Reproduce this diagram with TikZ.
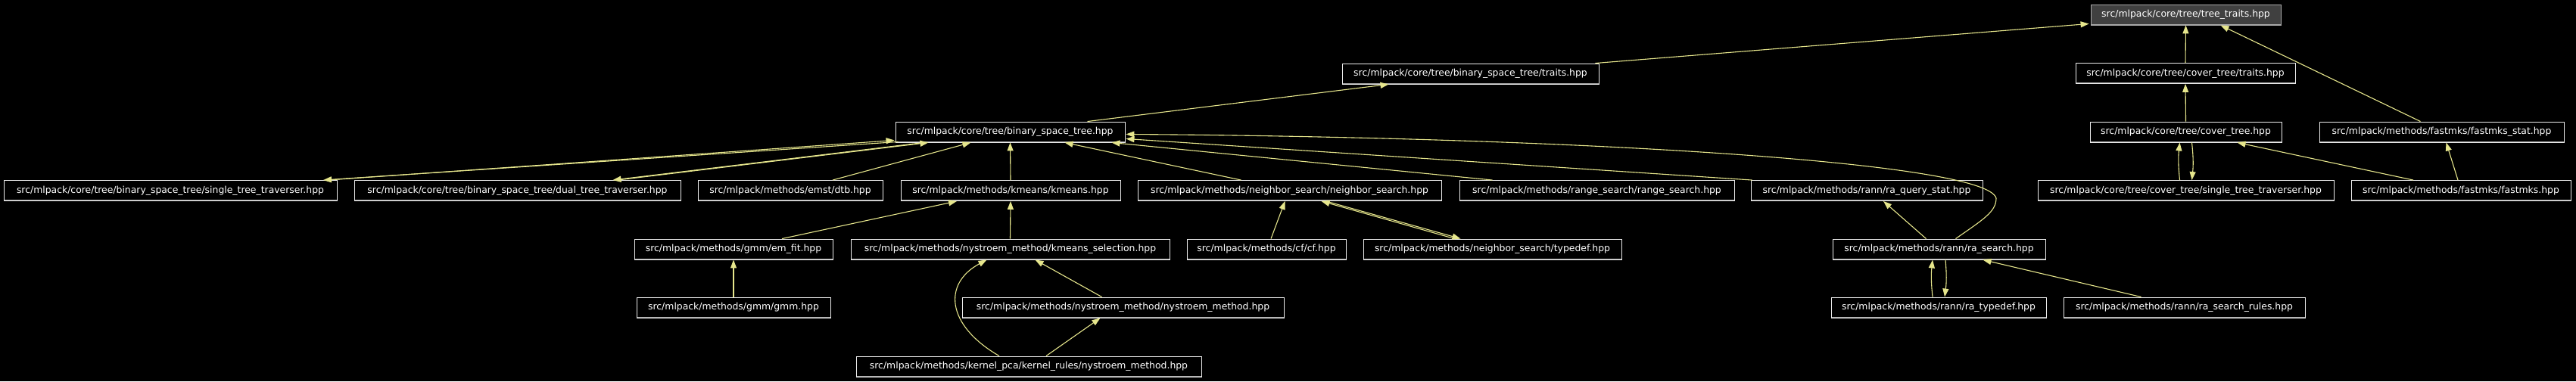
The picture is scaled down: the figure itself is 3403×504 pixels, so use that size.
\documentclass[tikz,border=0pt]{standalone}
\usepackage{fontspec}
\setmainfont{DejaVu Sans}
\usetikzlibrary{arrows.meta}
\definecolor{edgecol}{RGB}{230,230,140}
\definecolor{boxline}{RGB}{235,235,235}
\definecolor{boxshade}{RGB}{170,170,170}
\definecolor{ttfill}{RGB}{64,64,64}
\tikzset{
  filebox/.style={draw=boxline, line width=0.9pt, text=white, minimum height=27pt, inner sep=0pt,
    font=\fontsize{12.4}{14}\selectfont,
    path picture={\draw[boxshade,line width=3pt] (path picture bounding box.south west) -- (path picture bounding box.south east);}},
  rootbox/.style={filebox, fill=ttfill, draw=boxshade},
  dep/.style={draw=edgecol, line width=1.1pt, -{Triangle[length=11pt,width=8pt,fill=edgecol]}},
}
\begin{document}
\begin{tikzpicture}[x=1pt,y=-1pt]
\useasboundingbox[fill=black] (0,0) rectangle (3403,504);
% row 0
\node[rootbox, minimum width=251pt] (tt) at (2887.5,19.5) {src/mlpack/core/tree/tree\_traits.hpp};
% row 1
\node[filebox, minimum width=339pt] (bsttraits) at (1942.5,97.5) {src/mlpack/core/tree/binary\_space\_tree/traits.hpp};
\node[filebox, minimum width=290pt] (covtraits) at (2887,97) {src/mlpack/core/tree/cover\_tree/traits.hpp};
% row 2
\node[filebox, minimum width=303pt] (bst) at (1334.5,174.5) {src/mlpack/core/tree/binary\_space\_tree.hpp};
\node[filebox, minimum width=253pt] (covtree) at (2887.5,174.5) {src/mlpack/core/tree/cover\_tree.hpp};
\node[filebox, minimum width=323pt] (fmstat) at (3225.5,174.5) {src/mlpack/methods/fastmks/fastmks\_stat.hpp};
% row 3
\node[filebox, minimum width=440pt] (stt) at (225,252) {src/mlpack/core/tree/binary\_space\_tree/single\_tree\_traverser.hpp};
\node[filebox, minimum width=431pt] (dtt) at (683.5,252) {src/mlpack/core/tree/binary\_space\_tree/dual\_tree\_traverser.hpp};
\node[filebox, minimum width=244pt] (dtb) at (1044,252) {src/mlpack/methods/emst/dtb.hpp};
\node[filebox, minimum width=290pt] (kmeans) at (1335,252) {src/mlpack/methods/kmeans/kmeans.hpp};
\node[filebox, minimum width=401pt] (ns) at (1703.5,252) {src/mlpack/methods/neighbor\_search/neighbor\_search.hpp};
\node[filebox, minimum width=363pt] (rs) at (2109.5,252) {src/mlpack/methods/range\_search/range\_search.hpp};
\node[filebox, minimum width=306pt] (rqs) at (2466,252) {src/mlpack/methods/rann/ra\_query\_stat.hpp};
\node[filebox, minimum width=391pt] (cstt) at (2887.5,252) {src/mlpack/core/tree/cover\_tree/single\_tree\_traverser.hpp};
\node[filebox, minimum width=290pt] (fm) at (3251,252) {src/mlpack/methods/fastmks/fastmks.hpp};
% row 4
\node[filebox, minimum width=262pt] (emfit) at (969,329.5) {src/mlpack/methods/gmm/em\_fit.hpp};
\node[filebox, minimum width=421pt] (kms) at (1334.5,329.5) {src/mlpack/methods/nystroem\_method/kmeans\_selection.hpp};
\node[filebox, minimum width=210pt] (cf) at (1673,329.5) {src/mlpack/methods/cf/cf.hpp};
\node[filebox, minimum width=341pt] (nstd) at (1971.5,329.5) {src/mlpack/methods/neighbor\_search/typedef.hpp};
\node[filebox, minimum width=281pt] (ras) at (2561.5,329.5) {src/mlpack/methods/rann/ra\_search.hpp};
% row 5
\node[filebox, minimum width=256pt] (gmm) at (969,406.5) {src/mlpack/methods/gmm/gmm.hpp};
\node[filebox, minimum width=425pt] (nm) at (1483.5,406.5) {src/mlpack/methods/nystroem\_method/nystroem\_method.hpp};
\node[filebox, minimum width=284pt] (rat) at (2561,406.5) {src/mlpack/methods/rann/ra\_typedef.hpp};
\node[filebox, minimum width=319pt] (rasr) at (2885.5,406.5) {src/mlpack/methods/rann/ra\_search\_rules.hpp};
% row 6
\node[filebox, minimum width=456pt] (krn) at (1359,484.5) {src/mlpack/methods/kernel\_pca/kernel\_rules/nystroem\_method.hpp};

% edges
\draw[dep] ([xshift=-5pt]bsttraits.north east) -- ([xshift=-2pt,yshift=2pt]tt.south west);
\draw[dep] (covtraits.north) -- (tt.south);
\draw[dep] ([xshift=-28pt]fmstat.north) -- ([xshift=46pt]tt.south);
\draw[dep] (covtree.north) -- (covtraits.south);
\draw[dep] ([xshift=102pt]bst.north) -- ([xshift=-108pt]bsttraits.south);
\draw[dep] ([xshift=208pt]stt.north) -- ([xshift=-1pt,yshift=3pt]bst.south west);
\draw[dep] ([xshift=4pt,yshift=1pt]bst.south west) -- ([xshift=202pt]stt.north);
\draw[dep] ([xshift=132pt]dtt.north) -- ([xshift=-108pt]bst.south);
\draw[dep] ([xshift=-114pt]bst.south) -- ([xshift=126pt]dtt.north);
\draw[dep] ([xshift=56pt]dtb.north) -- ([xshift=-52pt]bst.south);
\draw[dep] (kmeans.north) -- (bst.south);
\draw[dep] ([xshift=-64pt]ns.north) -- ([xshift=72pt]bst.south);
\draw[dep] ([xshift=-138pt]rs.north) -- ([xshift=-18pt]bst.south east);
\draw[dep] ([xshift=2pt]rqs.north west) -- ([xshift=1pt,yshift=5pt]bst.south east);
\draw[dep] ([xshift=22pt]ras.north) .. controls (2620,290) and (2637,280) .. (2637,262)
  .. controls (2625,215) and (2100,182) .. ([xshift=1pt,yshift=11pt]bst.south east);
\draw[dep] ([xshift=-17pt]ras.north) -- ([xshift=22pt]rqs.south);
\draw[dep] ([xshift=-8pt]rat.north) to[bend left=6] ([xshift=-8.5pt]ras.south);
\draw[dep] ([xshift=8.5pt]ras.south) to[bend left=6] ([xshift=8pt]rat.north);
\draw[dep] ([xshift=-57pt]rasr.north) -- ([xshift=58pt]ras.south);
\draw[dep] ([xshift=-8pt]cstt.north) to[bend left=6] ([xshift=-8pt]covtree.south);
\draw[dep] ([xshift=8pt]covtree.south) to[bend left=6] ([xshift=8pt]cstt.north);
\draw[dep] ([xshift=-63pt]fm.north) -- ([xshift=68pt]covtree.south);
\draw[dep] ([xshift=-4pt]fm.north) -- ([xshift=6pt]fmstat.south);
\draw[dep] ([xshift=64pt]emfit.north) -- ([xshift=-71pt]kmeans.south);
\draw[dep] (kms.north) -- (kmeans.south);
\draw[dep] ([xshift=6pt]cf.north) -- ([xshift=-6pt]ns.south);
\draw[dep] ([xshift=-50pt]nstd.north) -- ([xshift=42pt]ns.south);
\draw[dep] ([xshift=48pt]ns.south) -- ([xshift=-42pt]nstd.north);
\draw[dep] (gmm.north) -- (emfit.south);
\draw[dep] ([xshift=-28pt]nm.north) -- ([xshift=33pt]kms.south);
\draw[dep] ([xshift=-39pt]krn.north) .. controls (1250,430) and (1245,375) .. ([xshift=-31pt]kms.south);
\draw[dep] ([xshift=23pt]krn.north) -- ([xshift=-30pt]nm.south);
\end{tikzpicture}
\end{document}
